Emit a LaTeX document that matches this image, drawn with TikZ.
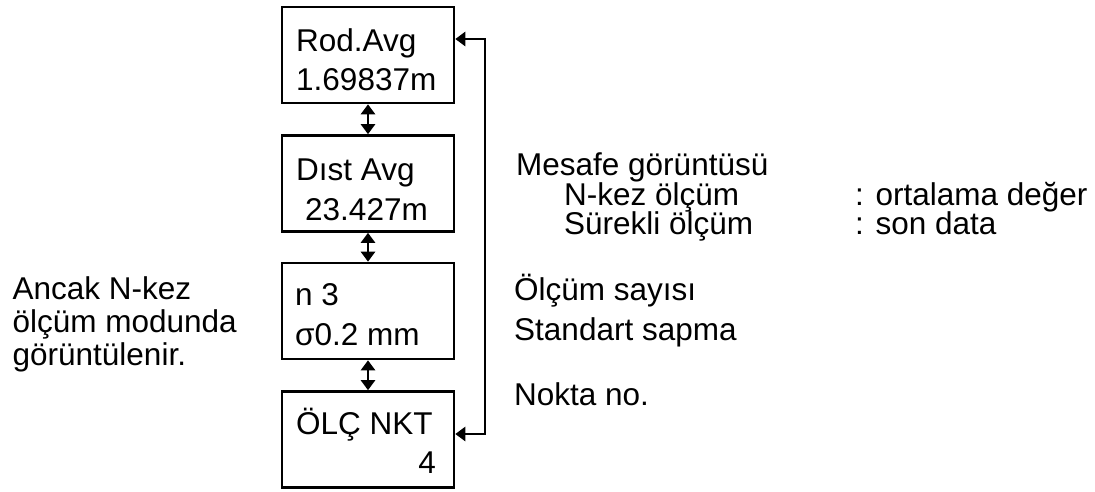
\documentclass[tikz,border=0pt]{standalone}
\usepackage{fontspec}
\setmainfont{Liberation Sans}
\usetikzlibrary{arrows.meta}
\begin{document}
\begin{tikzpicture}[x=1pt,y=-1pt,
  box/.style={draw,line width=2.6pt,minimum width=172pt,minimum height=96pt,inner sep=0pt},
  txt/.style={anchor=base west,inner sep=0pt,font=\fontsize{31.5}{36}\selectfont},
  txte/.style={anchor=base east,inner sep=0pt,font=\fontsize{31.5}{36}\selectfont},
  conn/.style={line width=2.6pt,{Triangle[length=10pt,width=14pt]}-{Triangle[length=10pt,width=14pt]}}]
\useasboundingbox (0,0) rectangle (1095,491);
% boxes
\node[box] (b1) at (368,55) {};
\node[box] (b2) at (368,183.5) {};
\node[box] (b3) at (368,311) {};
\node[box] (b4) at (368,439.5) {};
% box texts
\node[txt] (t1a) at (296,51) {Rod.Avg};
\node[txt] (t1b) at (296,90) {1.69837m};
\node[txt] (t2a) at (296,180) {Dıst Avg};
\node[txt] (t2b) at (305,220) {23.427m};
\node[txt] (t3a) at (295,305) {n 3};
\node[txt] (t3b) at (295,345) {σ0.2 mm};
\node[txt] (t4a) at (296,434) {ÖLÇ NKT};
\node[txte] (t4b) at (436,473) {4};
% connectors
\draw[conn] (b1.south) -- (b2.north);
\draw[conn] (b2.south) -- (b3.north);
\draw[conn] (b3.south) -- (b4.north);
\coordinate (r1) at (485,39);
\coordinate (r4) at (485,434);
\draw[conn] (b1.east |- r1) -- (r1) -- (r4) -- (b4.east |- r4);
% right texts
\node[txt] (m1) at (516,175) {Mesafe görüntüsü};
\node[txt] (m2) at (564,205) {N-kez ölçüm};
\node[txt] (m3) at (564,234) {Sürekli ölçüm};
\node[txt] (m4) at (855,205) {: ortalama değer};
\node[txt] (m5) at (855,234) {: son data};
\node[txt] (s1) at (514,300) {Ölçüm sayısı};
\node[txt] (s2) at (514,340) {Standart sapma};
\node[txt] (n1) at (514,405) {Nokta no.};
% left text
\node[txte] (l2) at (237,332) {ölçüm modunda};
\node[txt] (l1) at ([yshift=33pt]l2.base west) {Ancak N-kez};
\node[txt] (l3) at ([yshift=-33pt]l2.base west) {görüntülenir.};
\end{tikzpicture}
\end{document}
